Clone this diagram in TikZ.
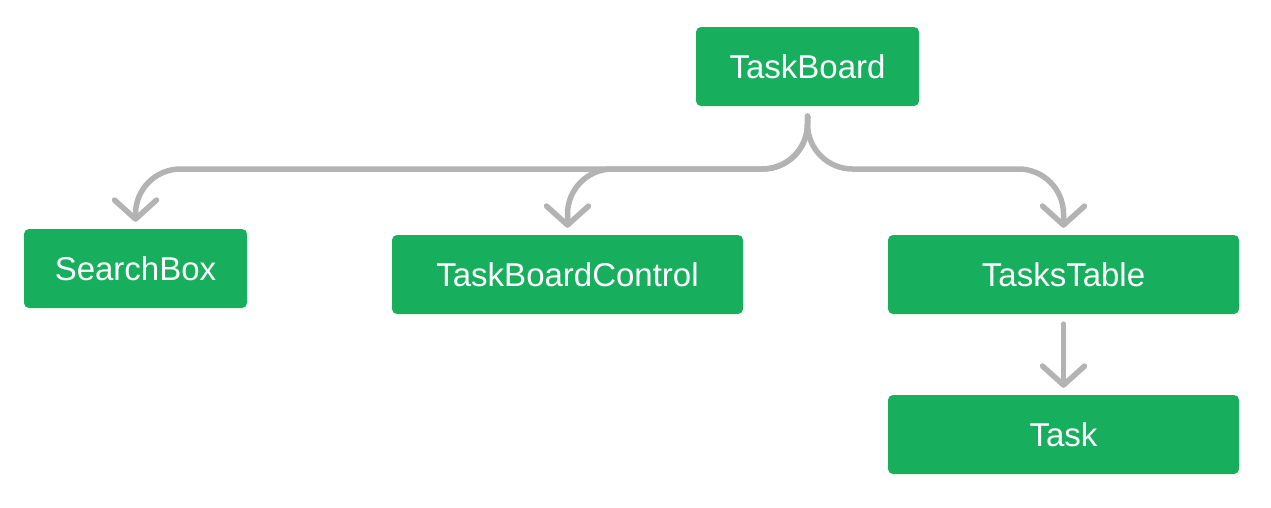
\documentclass[tikz,border=0pt]{standalone}
\usepackage{fontspec}
\setmainfont{Liberation Sans}
\usepackage{xcolor}
\usetikzlibrary{arrows.meta}

\definecolor{boxgreen}{HTML}{17AF5D}
\definecolor{linkgray}{HTML}{B3B3B3}

\begin{document}
\begin{tikzpicture}[x=1pt, y=-1pt,
    comp/.style={fill=boxgreen, rounded corners=5pt, text=white, inner sep=0pt,
                 minimum height=79pt, font=\fontsize{33}{39}\selectfont},
    link/.style={draw=linkgray, line width=5.5pt, line cap=round, rounded corners=45pt,
                 -{Straight Barb[length=19pt, width=42pt, line width=5.5pt, round]},
                 shorten <=10pt, shorten >=7pt}]
    \useasboundingbox (0,0) rectangle (1271,507);

    % Components
    \node[comp, minimum width=223pt] (board) at (807.5,66.5) {TaskBoard};
    \node[comp, minimum width=223pt] (search) at (135.5,268.5) {SearchBox};
    \node[comp, minimum width=351pt] (control) at (567.5,274.5) {TaskBoardControl};
    \node[comp, minimum width=351pt] (table) at (1063.5,274.5) {TasksTable};
    \node[comp, minimum width=351pt] (task) at (1063.5,434.5) {Task};

    % Level of the branches
    \coordinate (bus) at (807.5,169);

    % Links
    \draw[link] (board.south) |- (search.north |- bus) -- (search.north);
    \draw[link] (board.south) |- (control.north |- bus) -- (control.north);
    \draw[link] (board.south) |- (table.north |- bus) -- (table.north);
    \draw[link, rounded corners=0pt] (table.south) -- (task.north);
\end{tikzpicture}
\end{document}
